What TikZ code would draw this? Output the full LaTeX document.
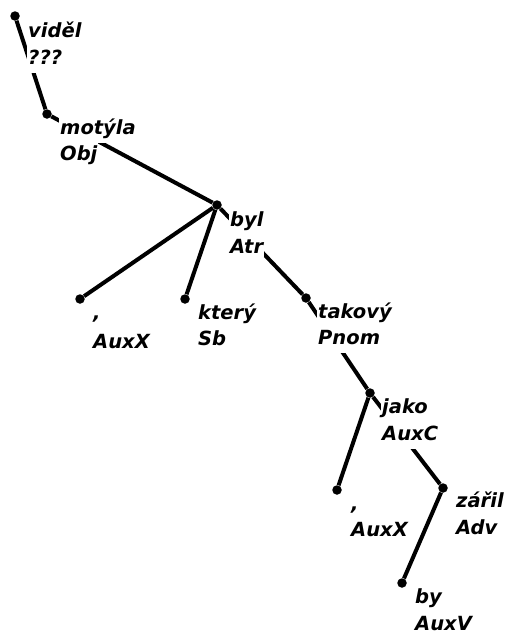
\documentclass[tikz,border=0pt]{standalone}
\usepackage{fontspec}
\setmainfont{DejaVu Sans}
\begin{document}
\begin{tikzpicture}[x=1pt, y=-1pt,
    knot/.style={circle, fill=black, inner sep=0pt, minimum size=9.5pt},
    branch/.style={line width=4pt},
    word/.style={anchor=base west, fill=white, inner xsep=1pt, inner ysep=3pt,
        text height=15pt, text depth=5.5pt,
        font=\fontsize{19.5}{22}\selectfont\bfseries\itshape}]
    \useasboundingbox (0,0) rectangle (507,637);

    % Tree nodes
    \node[knot] (videl) at (15,16) {};
    \node[knot] (motyla) at (47,114) {};
    \node[knot] (byl) at (217,205) {};
    \node[knot] (carka) at (80,299) {};
    \node[knot] (ktery) at (185,299) {};
    \node[knot] (takovy) at (306,298) {};
    \node[knot] (jako) at (370,393) {};
    \node[knot] (carkb) at (337,490) {};
    \node[knot] (zaril) at (443,488) {};
    \node[knot] (by) at (402,583) {};

    % Branches
    \draw[branch] (videl) -- (motyla);
    \draw[branch] (motyla) -- (byl);
    \draw[branch] (byl) -- (carka);
    \draw[branch] (byl) -- (ktery);
    \draw[branch] (byl) -- (takovy);
    \draw[branch] (takovy) -- (jako);
    \draw[branch] (jako) -- (carkb);
    \draw[branch] (jako) -- (zaril);
    \draw[branch] (zaril) -- (by);

    % Labels: word form, then function
    \node[word] (videl-w) at ([shift={(12,21)}]videl) {viděl};
    \node[word] (videl-f) at ([shift={(0,27)}]videl-w.base west) {???};
    \node[word] (motyla-w) at ([shift={(12,20)}]motyla) {motýla};
    \node[word] (motyla-f) at ([shift={(0,26)}]motyla-w.base west) {Obj};
    \node[word] (byl-w) at ([shift={(12,21)}]byl) {byl};
    \node[word] (byl-f) at ([shift={(0,27)}]byl-w.base west) {Atr};
    \node[word] (carka-w) at ([shift={(12,20)}]carka) {,};
    \node[word] (carka-f) at ([shift={(0,29)}]carka-w.base west) {AuxX};
    \node[word] (ktery-w) at ([shift={(12,20)}]ktery) {který};
    \node[word] (ktery-f) at ([shift={(0,26)}]ktery-w.base west) {Sb};
    \node[word] (takovy-w) at ([shift={(11,20)}]takovy) {takový};
    \node[word] (takovy-f) at ([shift={(0,26)}]takovy-w.base west) {Pnom};
    \node[word] (jako-w) at ([shift={(11,20)}]jako) {jako};
    \node[word] (jako-f) at ([shift={(0,27)}]jako-w.base west) {AuxC};
    \node[word] (carkb-w) at ([shift={(13,20)}]carkb) {,};
    \node[word] (carkb-f) at ([shift={(0,26)}]carkb-w.base west) {AuxX};
    \node[word] (zaril-w) at ([shift={(12,19)}]zaril) {zářil};
    \node[word] (zaril-f) at ([shift={(0,27)}]zaril-w.base west) {Adv};
    \node[word] (by-w) at ([shift={(12,20)}]by) {by};
    \node[word] (by-f) at ([shift={(0,27)}]by-w.base west) {AuxV};
\end{tikzpicture}
\end{document}
